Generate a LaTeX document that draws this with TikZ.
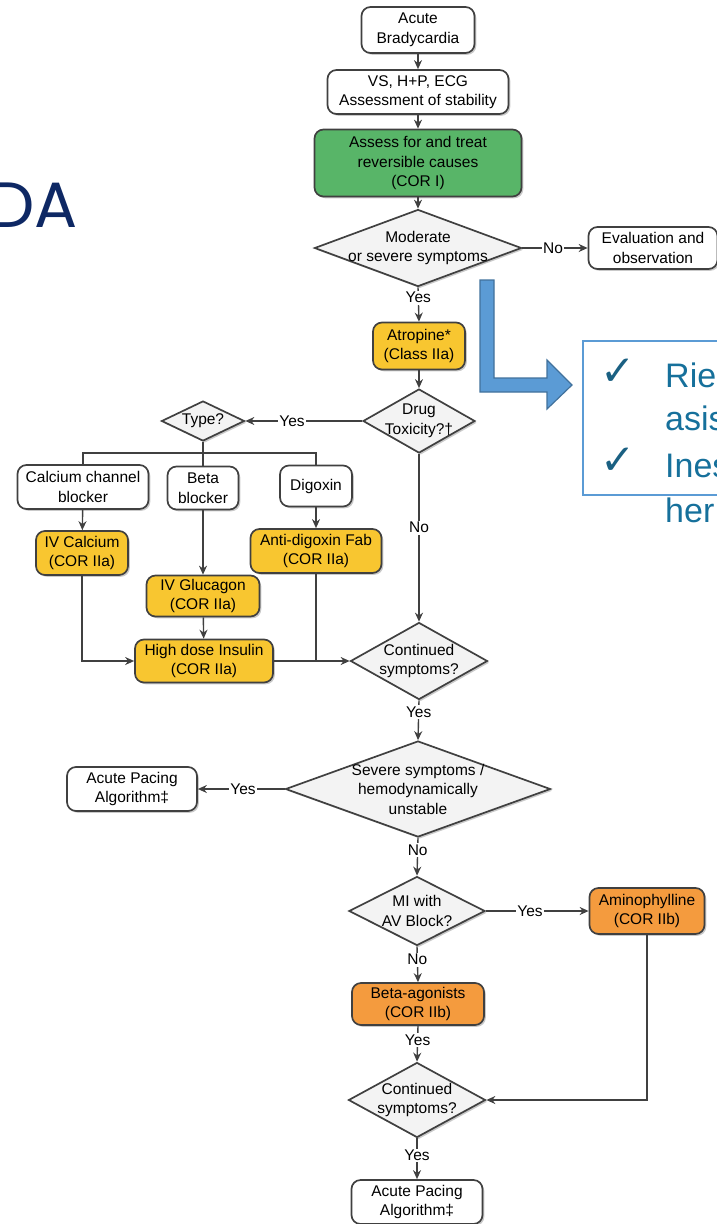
\documentclass[tikz,border=0pt]{standalone}
\usepackage{fontspec}
\setmainfont{Liberation Sans}
\newfontfamily\titlefont{Poppins}
\newfontfamily\symfont{DejaVu Sans}
\usetikzlibrary{shapes.geometric,shadows,arrows.meta}

\definecolor{linec}{RGB}{64,64,64}
\definecolor{diafill}{RGB}{243,243,243}
\definecolor{greenfill}{RGB}{88,181,104}
\definecolor{yellowfill}{RGB}{248,198,48}
\definecolor{orangefill}{RGB}{244,155,62}
\definecolor{arrowblue}{RGB}{91,155,213}
\definecolor{arrowedge}{RGB}{65,113,156}
\definecolor{frameblue}{RGB}{91,155,213}
\definecolor{textblue}{RGB}{22,112,155}
\definecolor{checkc}{RGB}{26,96,130}
\definecolor{navy}{RGB}{14,40,100}

\newcommand\flowfont{\fontsize{15.5}{19.5}\selectfont}

\tikzset{
  sz/.style 2 args={minimum width=#1pt, minimum height=#2pt},
  shade/.style={drop shadow={shadow xshift=1.8pt, shadow yshift=-1.8pt, opacity=0.3, fill=black!70}},
  box/.style={draw=linec, line width=1.7pt, rounded corners=9pt, fill=white,
    align=center, font=\flowfont, inner sep=0pt, shade},
  greenbox/.style={box, fill=greenfill},
  yellowbox/.style={box, fill=yellowfill},
  orangebox/.style={box, fill=orangefill},
  dia/.style={diamond, draw=linec, line width=1.7pt, fill=diafill, inner sep=0pt, shade},
  dl/.style={font=\flowfont, align=center, inner sep=0pt},
  arr/.style={draw=linec, line width=1.4pt, -{Stealth[length=9pt,width=8pt]}},
  conn/.style={draw=linec, line width=1.4pt},
  lab/.style={fill=white, inner sep=1.5pt, font=\flowfont},
  rtxt/.style={anchor=base west, inner sep=0pt, text=textblue, font=\fontsize{34}{40}\selectfont},
  chk/.style={inner sep=0pt, text=checkc, font=\symfont\fontsize{42}{44}\selectfont}
}

\begin{document}
\begin{tikzpicture}[x=1pt,y=-1pt]
\useasboundingbox (0,0) rectangle (717,1224);

% heading fragment at the left margin
\node[anchor=base west, inner sep=0pt, text=navy, font=\titlefont\fontsize{64}{70}\selectfont] (ttl) at (-11,227) {DA};

% main column
\node[box, sz={113}{46}] (a1) at (418,30) {Acute\\Bradycardia};
\node[box, sz={181}{44}] (a2) at (418,92) {VS, H+P, ECG\\Assessment of stability};
\node[greenbox, sz={207}{67}] (a3) at (418,163) {Assess for and treat\\reversible causes\\(COR I)};
\node[dia, sz={207}{77}, label={[dl]center:Moderate\\or severe symptoms}] (d1) at (418,248) {};
\node[box, sz={129}{42}] (ev) at (653,248) {Evaluation and\\observation};
\node[yellowbox, sz={92}{47}] (atr) at (419,346) {Atropine*\\(Class IIa)};
\node[dia, sz={112}{64}, label={[dl]center:Drug\\Toxicity?\textdagger}] (drug) at (419,421) {};

% drug toxicity branch
\node[dia, sz={83}{40}, label={[dl]center:Type?}] (type) at (203,421) {};
\coordinate (bus) at (203,453);
\node[box, sz={131}{44}] (ccb) at (83,487) {Calcium channel\\blocker};
\node[box, sz={71}{43}] (bb) at (203,488) {Beta\\blocker};
\node[box, sz={72}{41}] (dig) at (316,486) {Digoxin};
\node[yellowbox, sz={92}{44}] (ivca) at (82,553) {IV Calcium\\(COR IIa)};
\node[yellowbox, sz={131}{44}] (fab) at (316,551) {Anti-digoxin Fab\\(COR IIa)};
\node[yellowbox, sz={113}{41}] (glu) at (203,596) {IV Glucagon\\(COR IIa)};
\node[yellowbox, sz={138}{43}] (ins) at (204,661) {High dose Insulin\\(COR IIa)};

\node[dia, sz={137}{77}, label={[dl]center:Continued\\symptoms?}] (cs1) at (419,661) {};
\node[dia, sz={265}{96}, label={[dl]center:Severe symptoms /\\hemodynamically\\unstable}] (sev) at (418,789) {};
\node[box, sz={130}{44}] (ap1) at (132,789) {Acute Pacing\\Algorithm\textdaggerdbl};
\node[dia, sz={136}{69}, label={[dl]center:MI with\\AV Block?}] (mi) at (417,911) {};
\node[orangebox, sz={115}{46}] (amino) at (647,911) {Aminophylline\\(COR IIb)};
\node[orangebox, sz={132}{42}] (bag) at (418,1004) {Beta-agonists\\(COR IIb)};
\node[dia, sz={137}{75}, label={[dl]center:Continued\\symptoms?}] (cs2) at (417,1100) {};
\node[box, sz={131}{44}] (ap2) at (417,1202) {Acute Pacing\\Algorithm\textdaggerdbl};

% connectors
\draw[arr] (a1) -- (a2);
\draw[arr] (a2) -- (a3);
\draw[arr] (a3) -- (d1);
\draw[arr] (d1.east) -- node[lab, pos=0.47] {No} (ev.west);
\draw[arr] (d1.south) -- node[lab, pos=0.3] {Yes} (atr.north);
\draw[arr] (atr) -- (drug);
\draw[arr] (drug.west) -- node[lab, pos=0.6] {Yes} (type.east);
\draw[conn] (type.south) -- (bb.north);
\draw[conn] (ccb.north) -- (ccb.north |- bus) -- (dig.north |- bus) -- (dig.north);
\draw[arr] (ccb) -- (ivca);
\draw[arr] (bb) -- (glu);
\draw[arr] (dig) -- (fab);
\draw[arr] (glu) -- (ins);
\draw[arr] (ivca.south) |- (ins.west);
\draw[conn] (fab.south) -- (fab.south |- ins.east);
\draw[arr] (ins.east) -- (cs1.west);
\draw[arr] (drug.south) -- node[lab, pos=0.44] {No} (cs1.north);
\draw[arr] (cs1.south) -- node[lab, pos=0.3] {Yes} (sev.north);
\draw[arr] (sev.west) -- node[lab, pos=0.48] {Yes} (ap1.east);
\draw[arr] (sev.south) -- node[lab, pos=0.33] {No} (mi.north);
\draw[arr] (mi.east) -- node[lab, pos=0.43] {Yes} (amino.west);
\draw[arr] (mi.south) -- node[lab, pos=0.37] {No} (bag.north);
\draw[arr] (bag.south) -- node[lab, pos=0.4] {Yes} (cs2.north);
\draw[arr] (amino.south) |- (cs2.east);
\draw[arr] (cs2.south) -- node[lab, pos=0.42] {Yes} (ap2.north);

% bent block arrow pointing to the note box
\draw[fill=arrowblue, draw=arrowedge, line width=1.2pt, line join=miter]
  (480,280) -- (494,280) -- (494,378) -- (547,378) -- (547,360) -- (572,385)
  -- (547,409) -- (547,392) -- (480,392) -- cycle;

% note box with check list
\draw[draw=frameblue, line width=2.2pt] (583,341) rectangle (740,495);
\node[chk] (c1) at (618,372) {✓};
\node[chk] (c2) at (618,461) {✓};
\node[rtxt] (t1) at (665,387) {Rie};
\node[rtxt] (t2) at (665,430) {asis};
\node[rtxt] (t3) at (665,477) {Ines};
\node[rtxt] (t4) at (665,522) {her};
\end{tikzpicture}
\end{document}
